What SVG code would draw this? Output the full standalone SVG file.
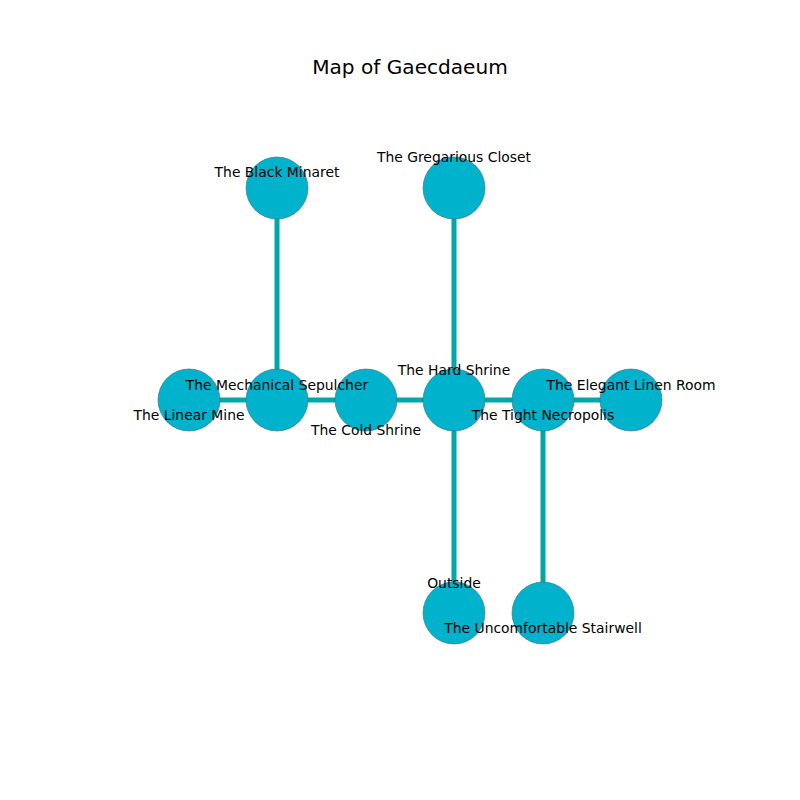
<svg xmlns="http://www.w3.org/2000/svg" width="800" height="800" viewBox="0 0 800 800">
<style>
.bg{fill:#ffffff}
.edge{stroke:#00a8a8;stroke-width:5;fill:none}
.node{fill:#00b2cc;stroke:#3a6f78;stroke-width:0.6}
.lbl{font-family:"DejaVu Sans",sans-serif;font-size:13.9px;fill:#000;text-anchor:middle;dominant-baseline:central}
.title{font-family:"DejaVu Sans",sans-serif;font-size:20.1px;fill:#000;text-anchor:middle;dominant-baseline:central}
</style>
<rect class="bg" x="0" y="0" width="800" height="800"/>
<text class="title" x="410" y="67">Map of Gaecdaeum</text>
<g id="connectors">
<line class="edge" x1="189" y1="400" x2="277" y2="400"/>
<line class="edge" x1="277" y1="400" x2="366" y2="400"/>
<line class="edge" x1="366" y1="400" x2="454" y2="400"/>
<line class="edge" x1="454" y1="400" x2="543" y2="400"/>
<line class="edge" x1="543" y1="400" x2="631" y2="400"/>
<line class="edge" x1="277" y1="400" x2="277" y2="188"/>
<line class="edge" x1="454" y1="400" x2="454" y2="188"/>
<line class="edge" x1="454" y1="400" x2="454" y2="613"/>
<line class="edge" x1="543" y1="400" x2="543" y2="613"/>
</g>
<g id="n-linear-mine"><circle class="node" cx="189" cy="400" r="31"/></g>
<g id="n-mechanical-sepulcher"><circle class="node" cx="277" cy="400" r="31"/></g>
<g id="n-cold-shrine"><circle class="node" cx="366" cy="400" r="31"/></g>
<g id="n-hard-shrine"><circle class="node" cx="454" cy="400" r="31"/></g>
<g id="n-tight-necropolis"><circle class="node" cx="543" cy="400" r="31"/></g>
<g id="n-elegant-linen-room"><circle class="node" cx="631" cy="400" r="31"/></g>
<g id="n-black-minaret"><circle class="node" cx="277" cy="188" r="31"/></g>
<g id="n-gregarious-closet"><circle class="node" cx="454" cy="188" r="31"/></g>
<g id="n-outside"><circle class="node" cx="454" cy="613" r="31"/></g>
<g id="n-uncomfortable-stairwell"><circle class="node" cx="543" cy="613" r="31"/></g>
<g id="labels">
<text class="lbl" x="277" y="172">The Black Minaret</text>
<text class="lbl" x="454" y="157">The Gregarious Closet</text>
<text class="lbl" x="277" y="385">The Mechanical Sepulcher</text>
<text class="lbl" x="189" y="415">The Linear Mine</text>
<text class="lbl" x="366" y="430">The Cold Shrine</text>
<text class="lbl" x="454" y="370">The Hard Shrine</text>
<text class="lbl" x="543" y="415">The Tight Necropolis</text>
<text class="lbl" x="631" y="385">The Elegant Linen Room</text>
<text class="lbl" x="454" y="583">Outside</text>
<text class="lbl" x="543" y="628">The Uncomfortable Stairwell</text>
</g>
</svg>
